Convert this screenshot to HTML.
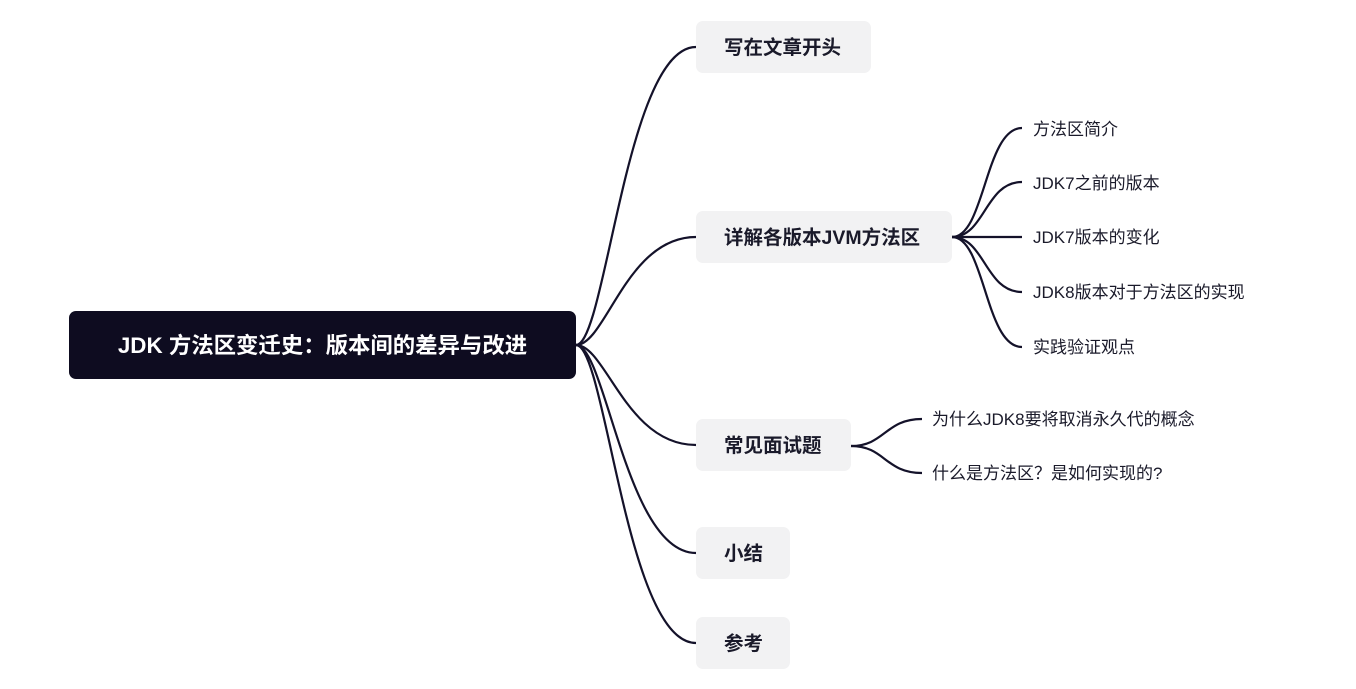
<!DOCTYPE html>
<html><head><meta charset="utf-8"><style>
body{margin:0;width:1356px;height:689px;background:#fff;overflow:hidden;position:relative;font-family:"Liberation Sans","Noto Sans CJK SC",sans-serif;}
.n{position:absolute;background:#f2f2f3;border-radius:7px;color:#1a1a2a;font-weight:bold;font-size:19.5px;line-height:54px;height:52px;padding-left:28px;box-sizing:border-box;white-space:nowrap;}
.root{position:absolute;left:69px;top:311px;width:507px;height:68px;background:#0e0c20;border-radius:7px;color:#fff;font-weight:bold;font-size:22.4px;line-height:70px;text-align:center;white-space:nowrap;}
.l{position:absolute;font-size:17px;color:#1a1a2a;line-height:22px;white-space:nowrap;}
svg{position:absolute;left:0;top:0}
</style></head><body>
<svg width="1356" height="689" fill="none" stroke="#14122a" stroke-width="2.2">
<path d="M576 345 C606 345,626 47,696 47"/>
<path d="M576 345 C606 345,626 237,696 237"/>
<path d="M576 345 C606 345,626 445,696 445"/>
<path d="M576 345 C606 345,626 553,696 553"/>
<path d="M576 345 C606 345,626 643,696 643"/>
<path d="M952 237 C985 237,985 128,1022 128"/>
<path d="M952 237 C985 237,985 182,1022 182"/>
<path d="M952 237 L1022 237"/>
<path d="M952 237 C985 237,985 292,1022 292"/>
<path d="M952 237 C985 237,985 347,1022 347"/>
<path d="M851 446 C885 446,885 419,922 419"/>
<path d="M851 446 C885 446,885 473,922 473"/>
</svg>
<div class="root">JDK 方法区变迁史：版本间的差异与改进</div>
<div class="n" style="left:696px;top:21px;width:175px">写在文章开头</div>
<div class="n" style="left:696px;top:211px;width:256px">详解各版本JVM方法区</div>
<div class="n" style="left:696px;top:419px;width:155px">常见面试题</div>
<div class="n" style="left:696px;top:527px;width:94px">小结</div>
<div class="n" style="left:696px;top:617px;width:94px">参考</div>
<div class="l" style="left:1033px;top:119px">方法区简介</div>
<div class="l" style="left:1033px;top:173px">JDK7之前的版本</div>
<div class="l" style="left:1033px;top:227px">JDK7版本的变化</div>
<div class="l" style="left:1033px;top:282px">JDK8版本对于方法区的实现</div>
<div class="l" style="left:1033px;top:337px">实践验证观点</div>
<div class="l" style="left:932px;top:409px">为什么JDK8要将取消永久代的概念</div>
<div class="l" style="left:932px;top:463px">什么是方法区？是如何实现的?</div>
</body></html>
